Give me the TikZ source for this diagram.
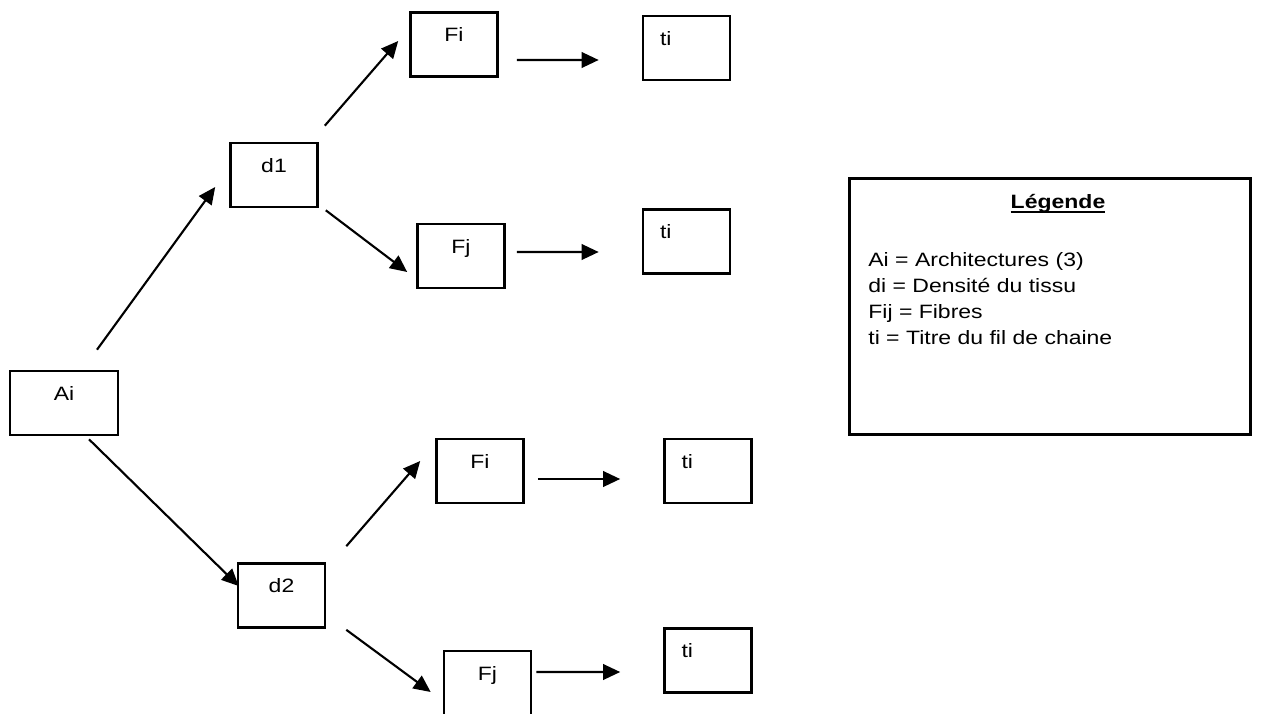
\documentclass[tikz,border=0pt]{standalone}
\usepackage{fontspec}
\setmainfont{Liberation Sans}[FakeStretch=1.19]
\usetikzlibrary{arrows.meta}

\newcommand{\souligne}[1]{\setbox0\hbox{#1}\rlap{\rule[-2.6pt]{\wd0}{0.9pt}}\box0}

\begin{document}
\begin{tikzpicture}[x=0.02cm,y=-0.02cm,>={Triangle[length=0.34cm,width=0.31cm]},
  font=\fontsize{11pt}{13pt}\selectfont,
  boite/.style={draw,line width=1.5pt,minimum width=1.74cm,inner xsep=0pt,inner ysep=0pt,text height=0.58cm,text depth=0.7cm},
  boitet/.style={boite,text width=1.06cm,align=left,inner xsep=0.34cm},
  fleche/.style={->,line width=1.2pt}]
\useasboundingbox (0,0) rectangle (1270,713);
\node[boite,minimum width=2.16cm] (A) at (64,403) {Ai};
\node[boite] (d1) at (274,175) {d1};
\node[boite] (d2) at (281.5,595.5) {d2};
\node[boite] (Fi1) at (454,44.5) {Fi};
\node[boite] (Fj1) at (461,256) {Fj};
\node[boite] (Fi2) at (480,471) {Fi};
\node[boite] (Fj2) at (487.5,683) {Fj};
\node[boitet] (t1) at (686.5,48) {ti};
\node[boitet] (t2) at (686.5,241.5) {ti};
\node[boitet] (t3) at (708,471) {ti};
\node[boitet] (t4) at (708,660.5) {ti};
\draw[fleche] ([shift={(33,-20)}]A.north) -- ([shift={(-14,12)}]d1.west);
\draw[fleche] ([shift={(6,-16)}]d1.north east) -- ([shift={(-11,-3.5)}]Fi1.west);
\draw[fleche] ([shift={(7,2)}]d1.south east) -- ([shift={(-9,16)}]Fj1.west);
\draw[fleche] ([shift={(18,15.5)}]Fi1.east) -- ([shift={(-43,12)}]t1.west);
\draw[fleche] ([shift={(11,-4)}]Fj1.east) -- ([shift={(-43,10.5)}]t2.west);
\draw[fleche] ([shift={(25,3)}]A.south) -- ([shift={(2,-9.5)}]d2.west);
\draw[fleche] ([shift={(20,-16)}]d2.north east) -- ([shift={(-15,-10)}]Fi2.west);
\draw[fleche] ([shift={(20,1)}]d2.south east) -- ([shift={(-12,9)}]Fj2.west);
\draw[fleche] ([shift={(13,8)}]Fi2.east) -- ([shift={(-43,8)}]t3.west);
\draw[fleche] ([shift={(4,-11)}]Fj2.east) -- ([shift={(-43,11.5)}]t4.west);
% legende
\node[draw,line width=1.5pt,minimum width=8.02cm,minimum height=5.12cm,inner sep=0pt,anchor=north west] (leg) at (848,177) {};
\node[font=\fontsize{11pt}{13pt}\selectfont\bfseries,anchor=base] (titre) at ([shift={(210,31)}]leg.north west) {\souligne{Légende}};
\foreach \ligne [count=\k] in {Ai = Architectures (3),di = Densité du tissu,Fij = Fibres,ti = Titre du fil de chaine}
  \node[anchor=base west,inner sep=0pt] (l\k) at ([shift={(20,63+26*\k)}]leg.north west) {\ligne};
\end{tikzpicture}
\end{document}
